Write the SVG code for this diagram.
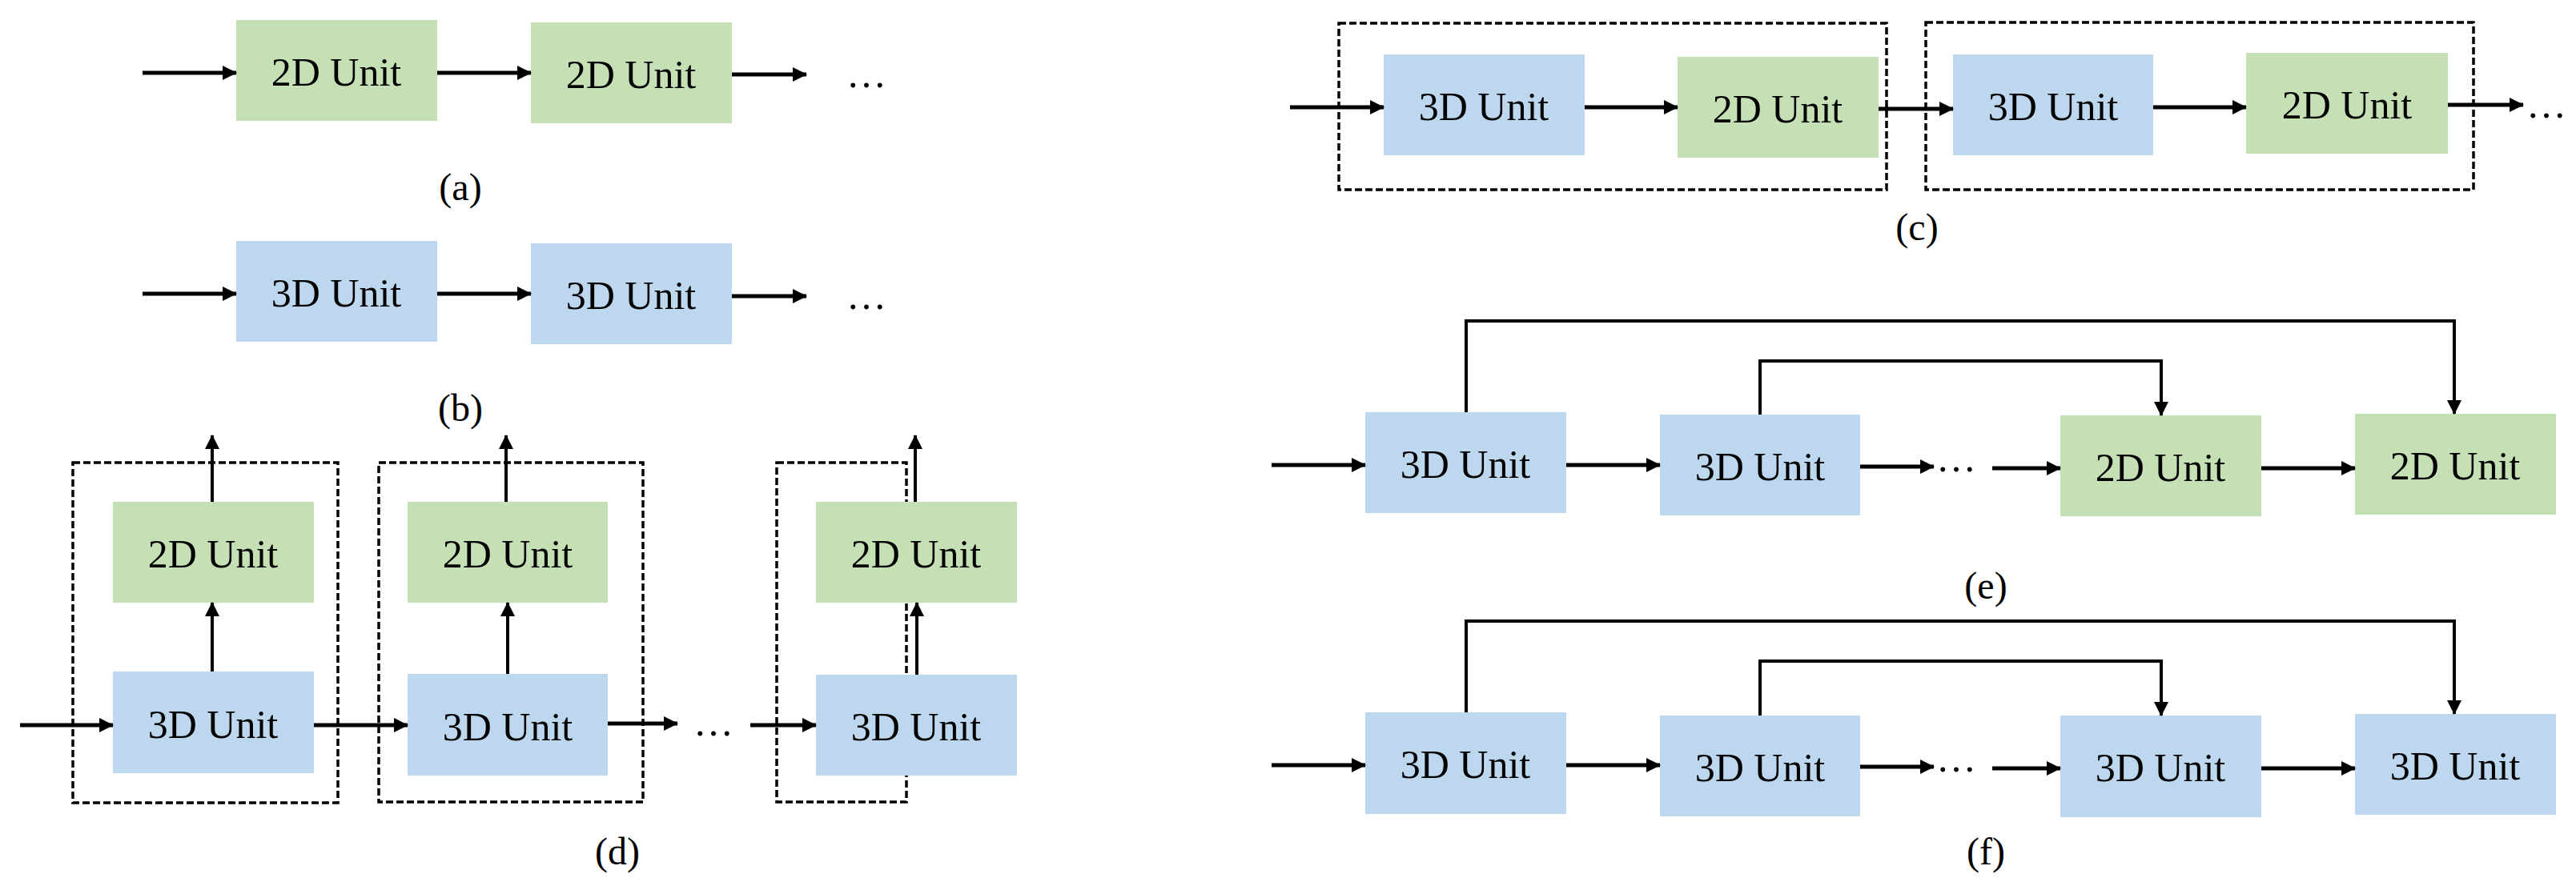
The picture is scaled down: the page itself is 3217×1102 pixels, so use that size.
<svg xmlns="http://www.w3.org/2000/svg" width="3217" height="1102" viewBox="0 0 3217 1102">
<style>
.g{fill:#c5e0b4}.b{fill:#bdd7ee}
text{font-family:"Liberation Serif","Times New Roman",serif;fill:#000;text-anchor:middle;dominant-baseline:central}
.t{font-size:50px}.l{font-size:48px}
.c line,.c path{stroke:#000;fill:none;stroke-width:5;marker-end:url(#ah)}
.c .s{stroke-width:4}
.d{fill:none;stroke:#000;stroke-width:3.5;stroke-dasharray:9 4}
</style>
<defs><marker id="ah" markerUnits="userSpaceOnUse" markerWidth="20" markerHeight="20" refX="17" refY="9" orient="auto"><path d="M0,0 L18,9 L0,18 Z" fill="#000"/></marker></defs>
<rect width="3217" height="1102" fill="#fff"/>
<!-- dashed frames -->
<g id="frames">
<rect class="d" x="91" y="578" width="331" height="425"/>
<rect class="d" x="473" y="578" width="330" height="424"/>
<rect class="d" x="970" y="578" width="162" height="424"/>
<rect class="d" x="1672" y="29" width="684" height="208"/>
<rect class="d" x="2405" y="28" width="684" height="209"/>
</g>
<!-- (a) -->
<g id="a1"><rect class="g" x="295" y="25" width="251" height="126"/><text class="t" x="420" y="90">2D Unit</text></g>
<g id="a2"><rect class="g" x="663" y="28" width="251" height="126"/><text class="t" x="788" y="93">2D Unit</text></g>
<!-- (b) -->
<g id="b1"><rect class="b" x="295" y="301" width="251" height="126"/><text class="t" x="420" y="366">3D Unit</text></g>
<g id="b2"><rect class="b" x="663" y="304" width="251" height="126"/><text class="t" x="788" y="369">3D Unit</text></g>
<!-- (d) -->
<g id="d1t"><rect class="g" x="141" y="627" width="251" height="126"/><text class="t" x="266" y="692">2D Unit</text></g>
<g id="d1b"><rect class="b" x="141" y="839" width="251" height="127"/><text class="t" x="266" y="905">3D Unit</text></g>
<g id="d2t"><rect class="g" x="509" y="627" width="250" height="126"/><text class="t" x="634" y="692">2D Unit</text></g>
<g id="d2b"><rect class="b" x="509" y="842" width="250" height="127"/><text class="t" x="634" y="908">3D Unit</text></g>
<g id="d3t"><rect class="g" x="1019" y="627" width="251" height="126"/><text class="t" x="1144" y="692">2D Unit</text></g>
<g id="d3b"><rect class="b" x="1019" y="843" width="251" height="126"/><text class="t" x="1144" y="908">3D Unit</text></g>
<!-- (c) -->
<g id="c1"><rect class="b" x="1728" y="68" width="251" height="126"/><text class="t" x="1853" y="133">3D Unit</text></g>
<g id="c2"><rect class="g" x="2095" y="71" width="251" height="126"/><text class="t" x="2220" y="136">2D Unit</text></g>
<g id="c3"><rect class="b" x="2439" y="68" width="250" height="126"/><text class="t" x="2564" y="133">3D Unit</text></g>
<g id="c4"><rect class="g" x="2805" y="66" width="252" height="126"/><text class="t" x="2931" y="131">2D Unit</text></g>
<!-- (e) -->
<g id="e1"><rect class="b" x="1705" y="515" width="251" height="126"/><text class="t" x="1830" y="580">3D Unit</text></g>
<g id="e2"><rect class="b" x="2073" y="518" width="250" height="126"/><text class="t" x="2198" y="583">3D Unit</text></g>
<g id="e3"><rect class="g" x="2573" y="519" width="251" height="126"/><text class="t" x="2698" y="584">2D Unit</text></g>
<g id="e4"><rect class="g" x="2941" y="517" width="251" height="126"/><text class="t" x="3066" y="582">2D Unit</text></g>
<!-- (f) -->
<g id="f1"><rect class="b" x="1705" y="890" width="251" height="127"/><text class="t" x="1830" y="955">3D Unit</text></g>
<g id="f2"><rect class="b" x="2073" y="894" width="250" height="126"/><text class="t" x="2198" y="959">3D Unit</text></g>
<g id="f3"><rect class="b" x="2573" y="894" width="251" height="127"/><text class="t" x="2698" y="959">3D Unit</text></g>
<g id="f4"><rect class="b" x="2941" y="892" width="251" height="126"/><text class="t" x="3066" y="957">3D Unit</text></g>
<g class="c" id="connectors">
<line x1="178" y1="91" x2="295" y2="91"/><line x1="546" y1="91" x2="663" y2="91"/><line x1="914" y1="93" x2="1007" y2="93"/>
<line x1="178" y1="367" x2="295" y2="367"/><line x1="546" y1="367" x2="663" y2="367"/><line x1="914" y1="370" x2="1007" y2="370"/>
<line class="s" x1="265" y1="627" x2="265" y2="544"/><line class="s" x1="265" y1="839" x2="265" y2="753"/>
<line class="s" x1="632" y1="627" x2="632" y2="544"/><line class="s" x1="634" y1="842" x2="634" y2="753"/>
<line class="s" x1="1143" y1="627" x2="1143" y2="544"/><line class="s" x1="1145" y1="843" x2="1145" y2="753"/>
<line x1="25" y1="906" x2="141" y2="906"/><line x1="392" y1="906" x2="509" y2="906"/><line x1="759" y1="904" x2="846" y2="904"/><line x1="937" y1="906" x2="1019" y2="906"/>
<line x1="1611" y1="134" x2="1728" y2="134"/><line x1="1979" y1="134" x2="2095" y2="134"/><line x1="2346" y1="136" x2="2439" y2="136"/><line x1="2689" y1="134" x2="2805" y2="134"/><line x1="3057" y1="131" x2="3151" y2="131"/>
<line x1="1588" y1="581" x2="1705" y2="581"/><line x1="1956" y1="581" x2="2073" y2="581"/><line x1="2323" y1="583" x2="2415" y2="583"/><line x1="2488" y1="585" x2="2573" y2="585"/><line x1="2824" y1="585" x2="2941" y2="585"/>
<path class="s" d="M1831,515 V401 H3065 V517"/><path class="s" d="M2198,518 V451 H2699 V519"/>
<line x1="1588" y1="956" x2="1705" y2="956"/><line x1="1956" y1="956" x2="2073" y2="956"/><line x1="2323" y1="958" x2="2415" y2="958"/><line x1="2488" y1="960" x2="2573" y2="960"/><line x1="2824" y1="960" x2="2941" y2="960"/>
<path class="s" d="M1831,890 V776 H3065 V892"/><path class="s" d="M2198,894 V826 H2699 V894"/>
</g>
<g id="dots">
<text class="t" x="1082" y="92">…</text><text class="t" x="1082" y="369">…</text>
<text class="t" x="891" y="902">…</text><text class="t" x="3180" y="130">…</text>
<text class="t" x="2443" y="572">…</text><text class="t" x="2443" y="947">…</text>
</g>
<g id="labels">
<text class="l" x="575" y="233">(a)</text><text class="l" x="575" y="509">(b)</text>
<text class="l" x="771" y="1063">(d)</text><text class="l" x="2394" y="283">(c)</text>
<text class="l" x="2480" y="731">(e)</text><text class="l" x="2480" y="1063">(f)</text>
</g>
</svg>
